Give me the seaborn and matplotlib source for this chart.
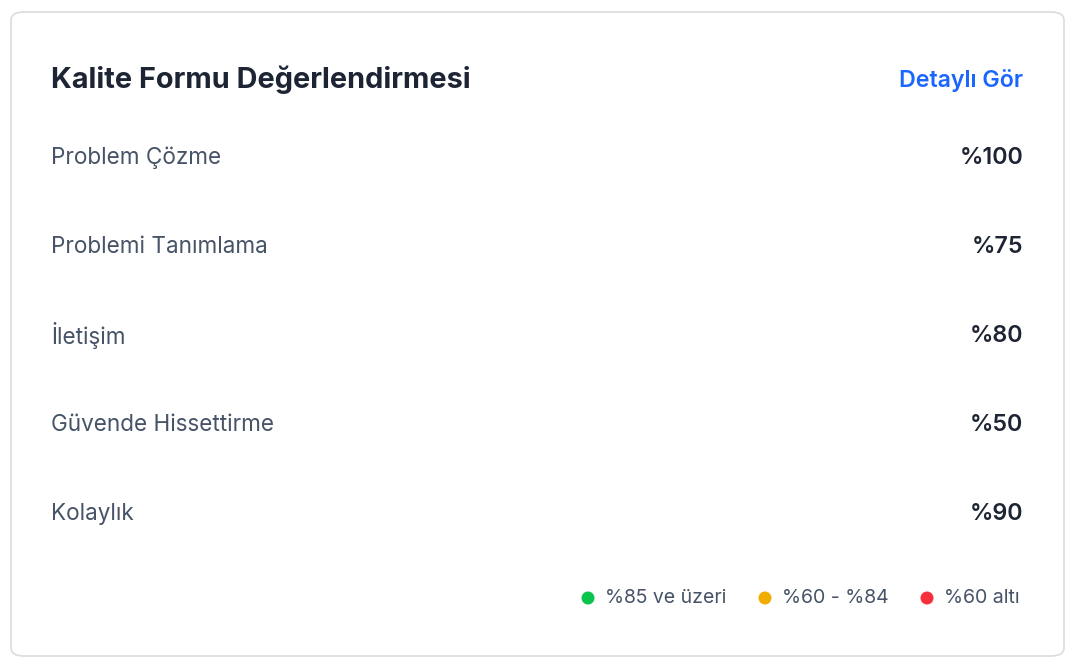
import matplotlib
matplotlib.use("Agg")
import matplotlib.pyplot as plt
from matplotlib.patches import FancyBboxPatch, Ellipse
import seaborn as sns
import pandas as pd

title = "Kalite Formu Değerlendirmesi"
link = "Detaylı Gör"
criteria = ["Problem Çözme", "Problemi Tanımlama", "İletişim", "Güvende Hissettirme", "Kolaylık"]
scores = [100, 75, 80, 50, 90]
legend_labels = ["%85 ve üzeri", "%60 - %84", "%60 altı"]

GREEN, AMBER, RED, TRACK = "#0BC44E", "#F0AE00", "#F5303D", "#F2F3F5"
LABEL_C, TITLE_C = "#475467", "#1D2433"
plt.rcParams["font.family"] = "Inter"

def color_for(v):
    if v >= 85:
        return GREEN
    if v >= 60:
        return AMBER
    return RED

W, H = 1080, 666
fig = plt.figure(figsize=(W / 100, H / 100), dpi=100)
fig.patch.set_facecolor("white")

# card
card = FancyBboxPatch((11 / W, 10 / H), 1053 / W, 644 / H, boxstyle="round,pad=0,rounding_size=0.012",
                      transform=fig.transFigure, facecolor="white", edgecolor="#DCDCDF", linewidth=1.2)
fig.patches.append(card)

# bar axes: x 0..100 over px 51..1023, y rows 89px apart, first centre at 194px
top_px, bot_px, x0, x1 = 140, 570, 51, 1023
ax = fig.add_axes([x0 / W, 1 - bot_px / H, (x1 - x0) / W, (bot_px - top_px) / H])
bar_h = 13 / 89

df = pd.DataFrame({"criterion": criteria, "score": scores, "track": [100] * len(scores)})
sns.barplot(data=df, x="track", y="criterion", orient="h", color=TRACK, width=bar_h, ax=ax)
sns.barplot(data=df, x="score", y="criterion", hue="criterion", orient="h", width=bar_h,
            palette=[color_for(v) for v in scores], legend=False, ax=ax)

# swap the square bars for round-capped strokes of the same extent
r = 6.5 / ((x1 - x0) / 100)
for p in list(ax.patches):
    x, y, w, h = p.get_x(), p.get_y(), p.get_width(), p.get_height()
    fc = p.get_facecolor()
    p.remove()
    ax.plot([x + r, x + w - r], [y + h / 2] * 2, color=fc, lw=13 * 0.72,
            solid_capstyle="round", zorder=2)

ax.set_xlim(0, 100)
ax.set_ylim((bot_px - 194) / 89, (top_px - 194) / 89)
ax.axis("off")

# labels
for i, (name, v) in enumerate(zip(criteria, scores)):
    yl = 1 - (158 + 89 * i) / H
    fig.text(51 / W, yl, name, fontsize=16.2, color=LABEL_C, va="center", ha="left")
    fig.text(1023 / W, yl, f"%{v}", fontsize=16.8, color=TITLE_C, va="center", ha="right", fontweight="semibold")

fig.text(51 / W, 1 - 80 / H, title, fontsize=20.8, fontweight="bold", color=TITLE_C, va="center", ha="left")
fig.text(1023 / W, 1 - 80 / H, link, fontsize=16.7, fontweight="semibold", color="#1A66FF", va="center", ha="right")

# legend
for cx, col, lab in zip([588, 765, 927], [GREEN, AMBER, RED], legend_labels):
    fig.patches.append(Ellipse((cx / W, 1 - 598 / H), 13 / W, 13 / H, transform=fig.transFigure,
                               facecolor=col, edgecolor="none"))
    fig.text((cx + 17) / W, 1 - 598 / H, lab, fontsize=14, color=LABEL_C, va="center", ha="left")

fig.savefig("out.png", dpi=100)
